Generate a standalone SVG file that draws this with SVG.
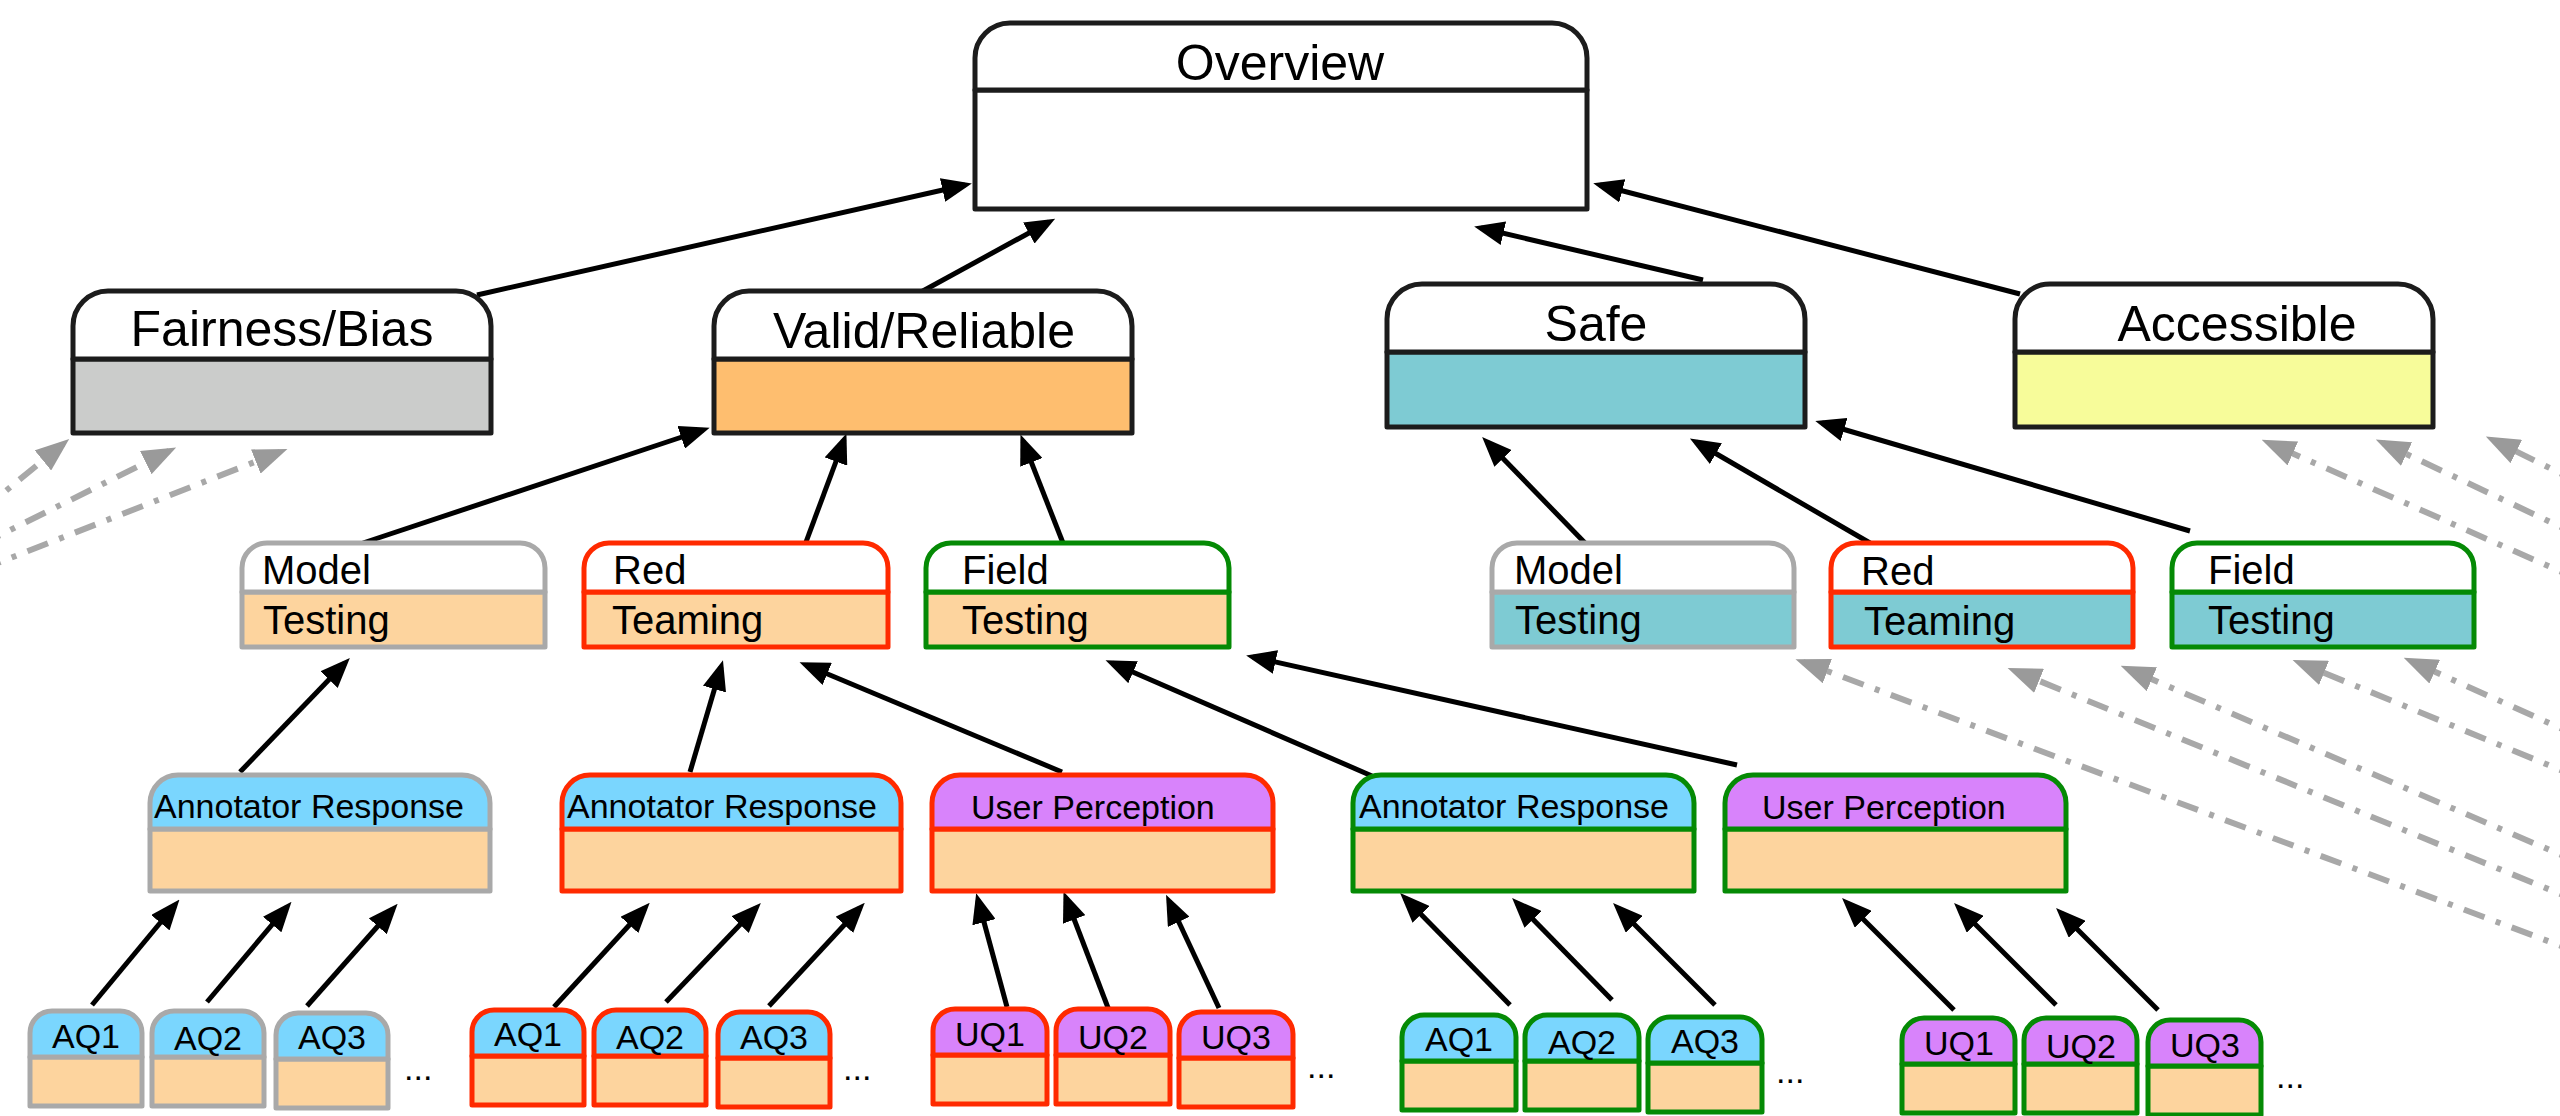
<svg xmlns="http://www.w3.org/2000/svg" width="2560" height="1116" viewBox="0 0 2560 1116">
  <defs>
    <marker id="arrow" markerUnits="userSpaceOnUse" markerWidth="30" markerHeight="24" refX="23" refY="12" orient="auto">
      <path d="M0,0 L30,12 L0,24 Z" fill="#000"/>
    </marker>
    <marker id="arrow-gray" markerUnits="userSpaceOnUse" markerWidth="34" markerHeight="26" refX="26" refY="13" orient="auto">
      <path d="M0,0 L34,13 L0,26 Z" fill="#9a9a9a"/>
    </marker>
    <style>
      text { font-family: "Liberation Sans", Arial, Helvetica, sans-serif; fill: #000; }
      .t1 { font-size: 50px; text-anchor: middle; }
      .t2 { font-size: 40px; }
      .t3 { font-size: 34px; }
      .t4 { font-size: 34px; text-anchor: middle; }
      .dots { font-size: 34px; }
      .k { stroke: #1c1c1c; stroke-width: 5; stroke-linejoin: round; }
      .g { stroke: #a9a9a9; stroke-width: 5; stroke-linejoin: round; }
      .r { stroke: #ff2a00; stroke-width: 5; stroke-linejoin: round; }
      .n { stroke: #058a05; stroke-width: 5; stroke-linejoin: round; }
      .white { fill: #ffffff; }
      .peach { fill: #fdd49e; }
      .grey { fill: #cbcccb; }
      .orange { fill: #febe6f; }
      .teal { fill: #7ecbd3; }
      .yellow { fill: #f7fc9a; }
      .blue { fill: #7ad6fe; }
      .purple { fill: #d883fb; }
      .link { fill: none; stroke: #000; stroke-width: 5; marker-end: url(#arrow); }
      .ext { fill: none; stroke: #a8a8a8; stroke-width: 6; stroke-dasharray: 22 12 5 12; marker-end: url(#arrow-gray); }
    </style>
  </defs>

  <rect width="2560" height="1116" fill="#ffffff"/>

  <!-- connectors -->
  <g id="connectors">
    <!-- incoming links from outside the view -->
    <line class="ext" x1="-20" y1="512" x2="63" y2="444"/>
    <line class="ext" x1="-20" y1="545" x2="169" y2="451"/>
    <line class="ext" x1="-20" y1="570" x2="280" y2="452"/>
    <line class="ext" x1="2580" y1="580" x2="2269" y2="443"/>
    <line class="ext" x1="2580" y1="536" x2="2383" y2="443"/>
    <line class="ext" x1="2580" y1="483" x2="2493" y2="440"/>
    <line class="ext" x1="2580" y1="953" x2="1803" y2="662"/>
    <line class="ext" x1="2580" y1="902" x2="2015" y2="671"/>
    <line class="ext" x1="2580" y1="863" x2="2128" y2="669"/>
    <line class="ext" x1="2580" y1="778" x2="2300" y2="663"/>
    <line class="ext" x1="2580" y1="737" x2="2411" y2="661"/>

    <!-- pillars to overview -->
    <line class="link" x1="477" y1="295" x2="965" y2="185"/>
    <line class="link" x1="921" y1="292" x2="1049" y2="222"/>
    <line class="link" x1="1703" y1="280" x2="1481" y2="228"/>
    <line class="link" x1="2020" y1="294" x2="1600" y2="185"/>

    <!-- testing kinds to pillars -->
    <line class="link" x1="363" y1="543" x2="703" y2="430"/>
    <line class="link" x1="806" y1="542" x2="844" y2="440"/>
    <line class="link" x1="1063" y1="543" x2="1023" y2="441"/>
    <line class="link" x1="1586" y1="544" x2="1487" y2="442"/>
    <line class="link" x1="1870" y1="543" x2="1696" y2="442"/>
    <line class="link" x1="2190" y1="531" x2="1822" y2="423"/>

    <!-- response groups to testing kinds -->
    <line class="link" x1="240" y1="772" x2="345" y2="663"/>
    <line class="link" x1="690" y1="772" x2="721" y2="667"/>
    <line class="link" x1="1062" y1="772" x2="806" y2="665"/>
    <line class="link" x1="1372" y1="776" x2="1112" y2="663"/>
    <line class="link" x1="1737" y1="765" x2="1253" y2="657"/>

    <!-- questions to response groups -->
    <line class="link" x1="92" y1="1005" x2="175" y2="905"/>
    <line class="link" x1="207" y1="1002" x2="287" y2="907"/>
    <line class="link" x1="307" y1="1006" x2="393" y2="909"/>
    <line class="link" x1="554" y1="1007" x2="645" y2="908"/>
    <line class="link" x1="666" y1="1002" x2="756" y2="908"/>
    <line class="link" x1="769" y1="1006" x2="860" y2="908"/>
    <line class="link" x1="1007" y1="1007" x2="978" y2="900"/>
    <line class="link" x1="1110" y1="1013" x2="1066" y2="898"/>
    <line class="link" x1="1219" y1="1008" x2="1169" y2="901"/>
    <line class="link" x1="1510" y1="1005" x2="1405" y2="898"/>
    <line class="link" x1="1612" y1="1000" x2="1517" y2="903"/>
    <line class="link" x1="1715" y1="1005" x2="1618" y2="908"/>
    <line class="link" x1="1954" y1="1010" x2="1847" y2="903"/>
    <line class="link" x1="2056" y1="1005" x2="1959" y2="908"/>
    <line class="link" x1="2158" y1="1010" x2="2061" y2="913"/>
  </g>

  <!-- top node -->
  <g id="overview">
    <rect class="k white" x="975" y="90" width="612" height="119"/>
    <path class="k white" d="M975,90 V58 A35,35 0 0 1 1010,23 H1552 A35,35 0 0 1 1587,58 V90 Z"/>
    <text class="t1" x="1280" y="80">Overview</text>
  </g>

  <!-- pillars -->
  <g id="fairness-bias">
    <rect class="k grey" x="73" y="359" width="418" height="74"/>
    <path class="k white" d="M73,359 V326 A35,35 0 0 1 108,291 H456 A35,35 0 0 1 491,326 V359 Z"/>
    <text class="t1" x="282" y="346">Fairness/Bias</text>
  </g>
  <g id="valid-reliable">
    <rect class="k orange" x="714" y="359" width="418" height="74"/>
    <path class="k white" d="M714,359 V326 A35,35 0 0 1 749,291 H1097 A35,35 0 0 1 1132,326 V359 Z"/>
    <text class="t1" x="924" y="348">Valid/Reliable</text>
  </g>
  <g id="safe">
    <rect class="k teal" x="1387" y="352" width="418" height="75"/>
    <path class="k white" d="M1387,352 V319 A35,35 0 0 1 1422,284 H1770 A35,35 0 0 1 1805,319 V352 Z"/>
    <text class="t1" x="1596" y="341">Safe</text>
  </g>
  <g id="accessible">
    <rect class="k yellow" x="2015" y="352" width="418" height="75"/>
    <path class="k white" d="M2015,352 V319 A35,35 0 0 1 2050,284 H2398 A35,35 0 0 1 2433,319 V352 Z"/>
    <text class="t1" x="2237" y="341">Accessible</text>
  </g>

  <!-- testing kinds under Valid/Reliable -->
  <g id="vr-model-testing">
    <rect class="g peach" x="242" y="592" width="303" height="55"/>
    <path class="g white" d="M242,592 V568 A25,25 0 0 1 267,543 H520 A25,25 0 0 1 545,568 V592 Z"/>
    <text class="t2" x="262" y="584">Model</text>
    <text class="t2" x="263" y="634">Testing</text>
  </g>
  <g id="vr-red-teaming">
    <rect class="r peach" x="584" y="592" width="304" height="55"/>
    <path class="r white" d="M584,592 V568 A25,25 0 0 1 609,543 H863 A25,25 0 0 1 888,568 V592 Z"/>
    <text class="t2" x="613" y="584">Red</text>
    <text class="t2" x="612" y="634">Teaming</text>
  </g>
  <g id="vr-field-testing">
    <rect class="n peach" x="926" y="592" width="303" height="55"/>
    <path class="n white" d="M926,592 V568 A25,25 0 0 1 951,543 H1204 A25,25 0 0 1 1229,568 V592 Z"/>
    <text class="t2" x="962" y="584">Field</text>
    <text class="t2" x="962" y="634">Testing</text>
  </g>

  <!-- testing kinds under Safe -->
  <g id="safe-model-testing">
    <rect class="g teal" x="1492" y="592" width="302" height="55"/>
    <path class="g white" d="M1492,592 V568 A25,25 0 0 1 1517,543 H1769 A25,25 0 0 1 1794,568 V592 Z"/>
    <text class="t2" x="1514" y="584">Model</text>
    <text class="t2" x="1515" y="634">Testing</text>
  </g>
  <g id="safe-red-teaming">
    <rect class="r teal" x="1831" y="592" width="302" height="55"/>
    <path class="r white" d="M1831,592 V568 A25,25 0 0 1 1856,543 H2108 A25,25 0 0 1 2133,568 V592 Z"/>
    <text class="t2" x="1861" y="585">Red</text>
    <text class="t2" x="1864" y="635">Teaming</text>
  </g>
  <g id="safe-field-testing">
    <rect class="n teal" x="2172" y="592" width="302" height="55"/>
    <path class="n white" d="M2172,592 V568 A25,25 0 0 1 2197,543 H2449 A25,25 0 0 1 2474,568 V592 Z"/>
    <text class="t2" x="2208" y="584">Field</text>
    <text class="t2" x="2208" y="634">Testing</text>
  </g>

  <!-- response groups -->
  <g id="model-annotator-response">
    <rect class="g peach" x="150" y="829" width="340" height="62"/>
    <path class="g blue" d="M150,829 V803 A28,28 0 0 1 178,775 H462 A28,28 0 0 1 490,803 V829 Z"/>
    <text class="t3" x="154" y="818">Annotator Response</text>
  </g>
  <g id="red-annotator-response">
    <rect class="r peach" x="562" y="829" width="339" height="62"/>
    <path class="r blue" d="M562,829 V803 A28,28 0 0 1 590,775 H873 A28,28 0 0 1 901,803 V829 Z"/>
    <text class="t3" x="567" y="818">Annotator Response</text>
  </g>
  <g id="red-user-perception">
    <rect class="r peach" x="932" y="829" width="341" height="62"/>
    <path class="r purple" d="M932,829 V803 A28,28 0 0 1 960,775 H1245 A28,28 0 0 1 1273,803 V829 Z"/>
    <text class="t3" x="971" y="819">User Perception</text>
  </g>
  <g id="field-annotator-response">
    <rect class="n peach" x="1353" y="829" width="341" height="62"/>
    <path class="n blue" d="M1353,829 V803 A28,28 0 0 1 1381,775 H1666 A28,28 0 0 1 1694,803 V829 Z"/>
    <text class="t3" x="1359" y="818">Annotator Response</text>
  </g>
  <g id="field-user-perception">
    <rect class="n peach" x="1725" y="829" width="341" height="62"/>
    <path class="n purple" d="M1725,829 V803 A28,28 0 0 1 1753,775 H2038 A28,28 0 0 1 2066,803 V829 Z"/>
    <text class="t3" x="1762" y="819">User Perception</text>
  </g>

  <!-- questions: model testing -->
  <g id="model-aq1" transform="translate(30,1011)">
    <rect class="g peach" x="0" y="46" width="112" height="49"/>
    <path class="g blue" d="M0,46 V22 A22,22 0 0 1 22,0 H90 A22,22 0 0 1 112,22 V46 Z"/>
    <text class="t4" x="56" y="37">AQ1</text>
  </g>
  <g id="model-aq2" transform="translate(152,1011)">
    <rect class="g peach" x="0" y="46" width="112" height="49"/>
    <path class="g blue" d="M0,46 V22 A22,22 0 0 1 22,0 H90 A22,22 0 0 1 112,22 V46 Z"/>
    <text class="t4" x="56" y="39">AQ2</text>
  </g>
  <g id="model-aq3" transform="translate(276,1013)">
    <rect class="g peach" x="0" y="46" width="112" height="49"/>
    <path class="g blue" d="M0,46 V22 A22,22 0 0 1 22,0 H90 A22,22 0 0 1 112,22 V46 Z"/>
    <text class="t4" x="56" y="36">AQ3</text>
  </g>
  <text class="dots" x="404" y="1080">...</text>

  <!-- questions: red teaming, annotators -->
  <g id="red-aq1" transform="translate(472,1010)">
    <rect class="r peach" x="0" y="46" width="112" height="49"/>
    <path class="r blue" d="M0,46 V22 A22,22 0 0 1 22,0 H90 A22,22 0 0 1 112,22 V46 Z"/>
    <text class="t4" x="56" y="36">AQ1</text>
  </g>
  <g id="red-aq2" transform="translate(594,1010)">
    <rect class="r peach" x="0" y="46" width="112" height="49"/>
    <path class="r blue" d="M0,46 V22 A22,22 0 0 1 22,0 H90 A22,22 0 0 1 112,22 V46 Z"/>
    <text class="t4" x="56" y="39">AQ2</text>
  </g>
  <g id="red-aq3" transform="translate(718,1012)">
    <rect class="r peach" x="0" y="46" width="112" height="49"/>
    <path class="r blue" d="M0,46 V22 A22,22 0 0 1 22,0 H90 A22,22 0 0 1 112,22 V46 Z"/>
    <text class="t4" x="56" y="37">AQ3</text>
  </g>
  <text class="dots" x="843" y="1080">...</text>

  <!-- questions: red teaming, users -->
  <g id="red-uq1" transform="translate(933,1009)">
    <rect class="r peach" x="0" y="46" width="114" height="49"/>
    <path class="r purple" d="M0,46 V22 A22,22 0 0 1 22,0 H92 A22,22 0 0 1 114,22 V46 Z"/>
    <text class="t4" x="57" y="37">UQ1</text>
  </g>
  <g id="red-uq2" transform="translate(1056,1009)">
    <rect class="r peach" x="0" y="46" width="114" height="49"/>
    <path class="r purple" d="M0,46 V22 A22,22 0 0 1 22,0 H92 A22,22 0 0 1 114,22 V46 Z"/>
    <text class="t4" x="57" y="40">UQ2</text>
  </g>
  <g id="red-uq3" transform="translate(1179,1012)">
    <rect class="r peach" x="0" y="46" width="114" height="49"/>
    <path class="r purple" d="M0,46 V22 A22,22 0 0 1 22,0 H92 A22,22 0 0 1 114,22 V46 Z"/>
    <text class="t4" x="57" y="37">UQ3</text>
  </g>
  <text class="dots" x="1307" y="1078">...</text>

  <!-- questions: field testing, annotators -->
  <g id="field-aq1" transform="translate(1402,1015)">
    <rect class="n peach" x="0" y="46" width="114" height="49"/>
    <path class="n blue" d="M0,46 V22 A22,22 0 0 1 22,0 H92 A22,22 0 0 1 114,22 V46 Z"/>
    <text class="t4" x="57" y="36">AQ1</text>
  </g>
  <g id="field-aq2" transform="translate(1525,1015)">
    <rect class="n peach" x="0" y="46" width="114" height="49"/>
    <path class="n blue" d="M0,46 V22 A22,22 0 0 1 22,0 H92 A22,22 0 0 1 114,22 V46 Z"/>
    <text class="t4" x="57" y="39">AQ2</text>
  </g>
  <g id="field-aq3" transform="translate(1648,1017)">
    <rect class="n peach" x="0" y="46" width="114" height="49"/>
    <path class="n blue" d="M0,46 V22 A22,22 0 0 1 22,0 H92 A22,22 0 0 1 114,22 V46 Z"/>
    <text class="t4" x="57" y="36">AQ3</text>
  </g>
  <text class="dots" x="1776" y="1083">...</text>

  <!-- questions: field testing, users -->
  <g id="field-uq1" transform="translate(1902,1018)">
    <rect class="n peach" x="0" y="46" width="113" height="49"/>
    <path class="n purple" d="M0,46 V22 A22,22 0 0 1 22,0 H91 A22,22 0 0 1 113,22 V46 Z"/>
    <text class="t4" x="57" y="37">UQ1</text>
  </g>
  <g id="field-uq2" transform="translate(2024,1018)">
    <rect class="n peach" x="0" y="46" width="113" height="49"/>
    <path class="n purple" d="M0,46 V22 A22,22 0 0 1 22,0 H91 A22,22 0 0 1 113,22 V46 Z"/>
    <text class="t4" x="57" y="40">UQ2</text>
  </g>
  <g id="field-uq3" transform="translate(2148,1020)">
    <rect class="n peach" x="0" y="46" width="113" height="49"/>
    <path class="n purple" d="M0,46 V22 A22,22 0 0 1 22,0 H91 A22,22 0 0 1 113,22 V46 Z"/>
    <text class="t4" x="57" y="37">UQ3</text>
  </g>
  <text class="dots" x="2276" y="1088">...</text>
</svg>
